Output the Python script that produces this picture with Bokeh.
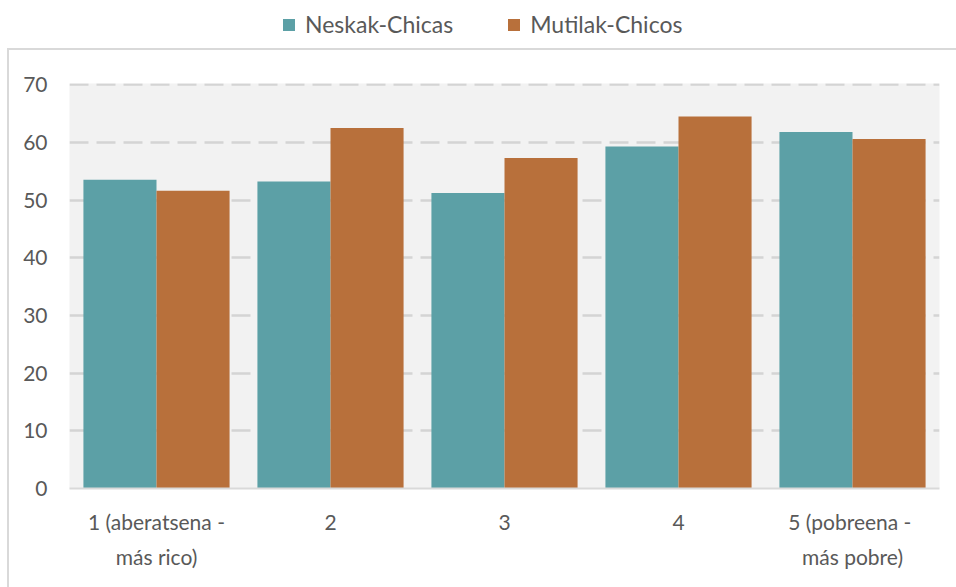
from bokeh.plotting import figure
from bokeh.layouts import column
from bokeh.models import (ColumnDataSource, Legend, LegendItem, FixedTicker,
                          InlineStyleSheet)
from bokeh.transform import dodge
from bokeh.embed import file_html
from bokeh.resources import INLINE

# Income quintile groups (rich -> poor)
categories = ["1 (aberatsena -\nmás rico)", "2", "3", "4", "5  (pobreena -\nmás pobre)"]
chicas = [53.5, 53.2, 51.2, 59.3, 61.8]
chicos = [51.6, 62.5, 57.3, 64.5, 60.6]
series_names = ["Neskak-Chicas", "Mutilak-Chicos"]
y_ticks = [0, 10, 20, 30, 40, 50, 60, 70]

TEAL = "#5ca0a6"
ORANGE = "#b8703b"
TEXT = "#595959"
FONT = "Lato"

source = ColumnDataSource(data=dict(cat=categories, chicas=chicas, chicos=chicos))

# ---- legend strip above the chart ----
# the series are drawn here too, but the y range sits above the data,
# so only the legend swatches and labels show
top = figure(width=956, height=48, x_range=categories, y_range=(1000, 1001),
             output_backend="svg", toolbar_location=None,
             min_border_left=0, min_border_right=0,
             min_border_top=0, min_border_bottom=0)
top.axis.visible = False
top.grid.visible = False
top.outline_line_color = None
top.border_fill_color = "white"
top.background_fill_color = "white"
k1 = top.vbar(x="cat", top="chicas", width=0.4, source=source,
              fill_color=TEAL, line_color=None)
k2 = top.vbar(x="cat", top="chicos", width=0.4, source=source,
              fill_color=ORANGE, line_color=None)
legend = Legend(items=[LegendItem(label=series_names[0], renderers=[k1]),
                       LegendItem(label=series_names[1], renderers=[k2])],
                orientation="horizontal", location=(212, 10),
                label_text_font=FONT, label_text_font_size="23px",
                label_text_color=TEXT, glyph_width=15, glyph_height=15,
                label_standoff=9, spacing=53, padding=0, margin=0,
                border_line_color=None, background_fill_alpha=0)
top.add_layout(legend, "center")

# ---- bar chart ----
p = figure(width=956, height=539, x_range=categories, y_range=(0, 70.2),
           output_backend="svg", toolbar_location=None,
           min_border_left=69, min_border_right=17,
           min_border_top=35, min_border_bottom=99)

p.background_fill_color = "#f2f2f2"
p.border_fill_color = "white"
p.outline_line_color = None

p.vbar(x=dodge("cat", -0.21, range=p.x_range), top="chicas", width=0.42,
       source=source, fill_color=TEAL, line_color=None)
p.vbar(x=dodge("cat", 0.21, range=p.x_range), top="chicos", width=0.42,
       source=source, fill_color=ORANGE, line_color=None)

# grid
p.xgrid.grid_line_color = None
p.ygrid.grid_line_color = "#d4d4d4"
p.ygrid.grid_line_width = 2.5
p.ygrid.grid_line_dash = "19 8"
p.ygrid.ticker = FixedTicker(ticks=y_ticks[1:])

# y axis
p.yaxis.ticker = FixedTicker(ticks=y_ticks)
p.yaxis.axis_line_color = None
p.yaxis.major_tick_line_color = None
p.yaxis.minor_tick_line_color = None
p.yaxis.major_label_text_font = FONT
p.yaxis.major_label_text_font_size = "21px"
p.yaxis.major_label_text_color = TEXT
p.yaxis.major_label_standoff = 16

# x axis
p.xaxis.axis_line_color = "#d9d9d9"
p.xaxis.axis_line_width = 2
p.xaxis.major_tick_line_color = None
p.xaxis.minor_tick_line_color = None
p.xaxis.major_label_text_font = FONT
p.xaxis.major_label_text_font_size = "21px"
p.xaxis.major_label_text_color = TEXT
p.xaxis.major_label_text_line_height = 1.4
p.xaxis.major_label_standoff = 14

# thin chart border on the left and top
p.stylesheets.append(InlineStyleSheet(css="""
:host { position: relative; }
:host::after {
  content: "";
  position: absolute;
  left: 7px; top: 0; right: 0; bottom: 0;
  border-left: 2px solid #d9d9d9;
  border-top: 2px solid #d9d9d9;
  pointer-events: none;
}
"""))

layout = column(top, p, spacing=0)

with open("out.html", "w") as f:
    f.write(file_html(layout, INLINE))
